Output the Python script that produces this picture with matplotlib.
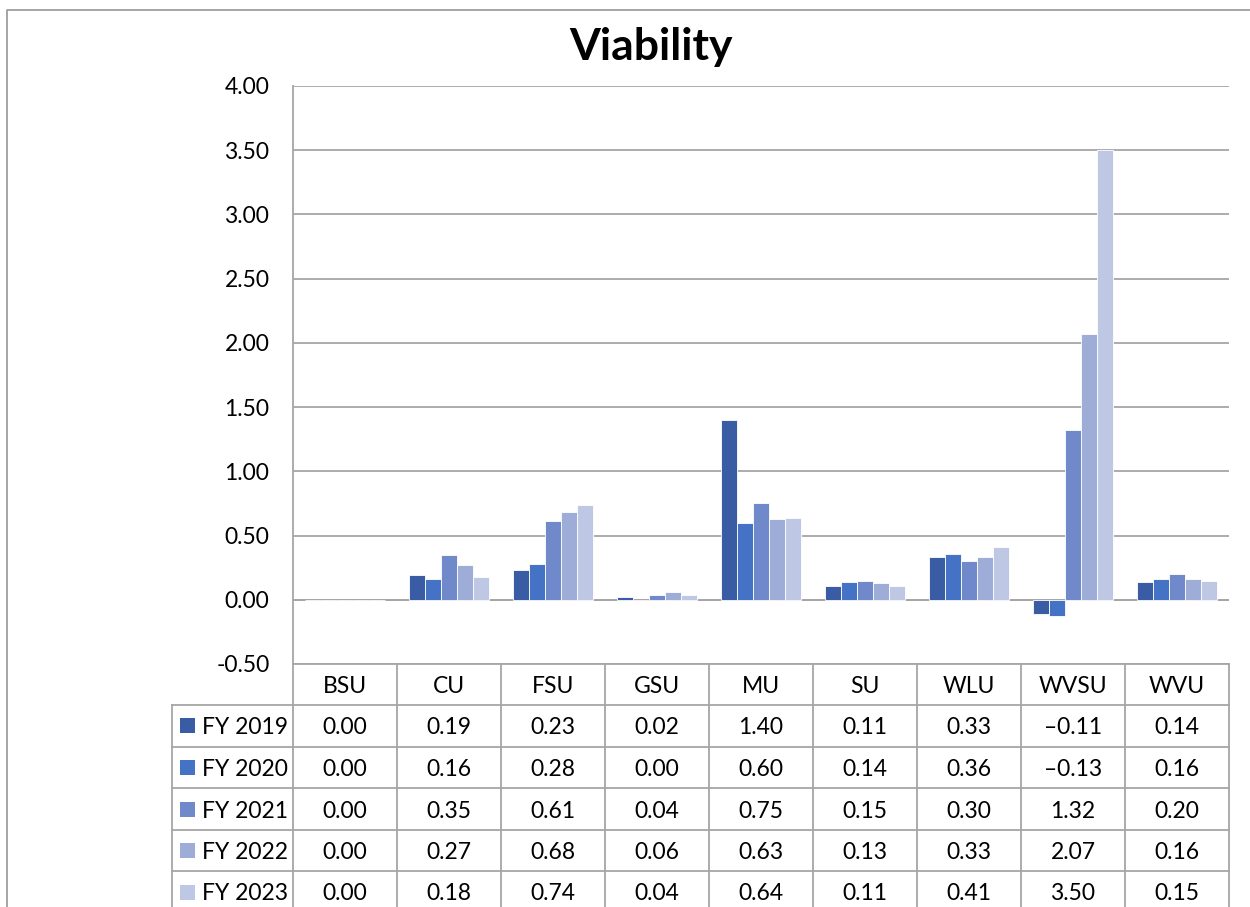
import matplotlib.pyplot as plt
import numpy as np
from matplotlib.lines import Line2D
from matplotlib.patches import Rectangle
from matplotlib import transforms

plt.rcParams['font.family'] = ['Lato', 'DejaVu Sans']
plt.rcParams['axes.unicode_minus'] = False

schools = ['BSU', 'CU', 'FSU', 'GSU', 'MU', 'SU', 'WLU', 'WVSU', 'WVU']
years = ['FY 2019', 'FY 2020', 'FY 2021', 'FY 2022', 'FY 2023']
fy2019 = [0.00, 0.19, 0.23, 0.02, 1.40, 0.11, 0.33, -0.11, 0.14]
fy2020 = [0.00, 0.16, 0.28, 0.00, 0.60, 0.14, 0.36, -0.13, 0.16]
fy2021 = [0.00, 0.35, 0.61, 0.04, 0.75, 0.15, 0.30, 1.32, 0.20]
fy2022 = [0.00, 0.27, 0.68, 0.06, 0.63, 0.13, 0.33, 2.07, 0.16]
fy2023 = [0.00, 0.18, 0.74, 0.04, 0.64, 0.11, 0.41, 3.50, 0.15]
series = [fy2019, fy2020, fy2021, fy2022, fy2023]
colors = ['#3A5CA5', '#4472C4', '#6F89CB', '#9DADD8', '#BEC8E5']
yticks = [-0.5, 0.0, 0.5, 1.0, 1.5, 2.0, 2.5, 3.0, 3.5, 4.0]

W, H = 1250, 907
GRAY = '#A6A6A6'
FS = 16.5


def fx(x):
    return x / W


def fy(y):
    return 1 - y / H


fig = plt.figure(figsize=(W / 100, H / 100), dpi=100)

# plot area (pixel layout of the original)
left, right, top, bottom = 293, 1229, 86, 664
ax = fig.add_axes([fx(left), fy(bottom), fx(right - left), (bottom - top) / H])

x = np.arange(len(schools))
bw = 0.153
for i, (vals, c) in enumerate(zip(series, colors)):
    ax.bar(x + (i - 2) * bw, vals, bw, color=c, edgecolor='white', linewidth=0.6, zorder=2)

ax.set_xlim(-0.5, len(schools) - 0.5)
ax.set_ylim(-0.5, 4.0)
ax.set_yticks(yticks)
ax.set_yticklabels([f'{v:.2f}' for v in yticks], fontsize=FS)
ax.tick_params(axis='y', length=0, pad=17)
ax.set_xticks([])
ax.yaxis.grid(True, color=GRAY, linewidth=1.3)
ax.set_axisbelow(True)
ax.axhline(0, color=GRAY, linewidth=1.3, zorder=1.5)
for s in ['top', 'right', 'bottom']:
    ax.spines[s].set_visible(False)
ax.spines['left'].set_color(GRAY)
ax.spines['left'].set_linewidth(1.3)

# title
fig.text(fx(651), fy(47), 'Viability', ha='center', va='center', fontsize=32, fontweight='bold')

# outer chart border
fig.add_artist(Line2D([fx(7), fx(7), fx(1250)], [fy(907), fy(10), fy(10)],
                      color='#9E9E9E', linewidth=1.3))

# data table under the plot
trans = transforms.blended_transform_factory(ax.transData, fig.transFigure)
row_edges = [664, 705, 746.5, 788, 830, 871, 907]
tab_left = 172


def hline(x0, x1, y):
    fig.add_artist(Line2D([fx(x0), fx(x1)], [fy(y), fy(y)], color=GRAY, linewidth=1.3))


def vline(xp, y0, y1):
    fig.add_artist(Line2D([fx(xp), fx(xp)], [fy(y0), fy(y1)], color=GRAY, linewidth=1.3))


hline(left, right, row_edges[0])
for y in row_edges[1:-1]:
    hline(tab_left, right, y)
vline(tab_left, row_edges[1], row_edges[-1])
for k in range(len(schools) + 1):
    xp = left + k * (right - left) / len(schools)
    vline(xp, row_edges[0], row_edges[-1])

hc = (row_edges[0] + row_edges[1]) / 2
for i, name in enumerate(schools):
    fig.text(i, fy(hc + 2), name, transform=trans, ha='center', va='center', fontsize=FS)

for r, (label, vals, c) in enumerate(zip(years, series, colors)):
    yc = (row_edges[r + 1] + row_edges[r + 2]) / 2
    if r == len(years) - 1:
        yc = row_edges[r + 1] + 21
    fig.add_artist(Rectangle((fx(180), fy(yc + 7.5)), 15 / W, 15 / H,
                             facecolor=c, edgecolor='none', transform=fig.transFigure))
    fig.text(fx(202), fy(yc + 2), label, ha='left', va='center', fontsize=FS)
    for i, v in enumerate(vals):
        fig.text(i, fy(yc + 2), f'{v:.2f}'.replace('-', '\u2013'), transform=trans,
                 ha='center', va='center', fontsize=FS)

fig.savefig('out.png', dpi=100, facecolor='white')
